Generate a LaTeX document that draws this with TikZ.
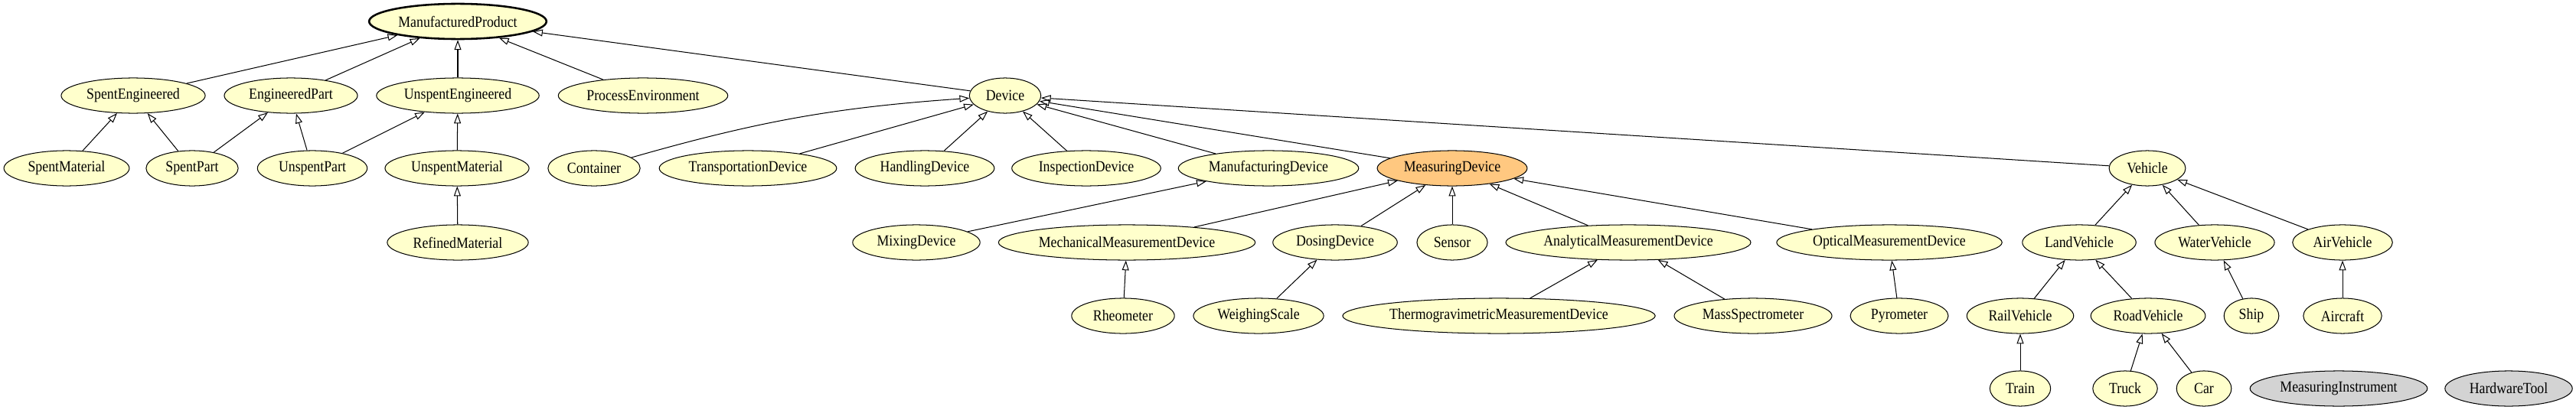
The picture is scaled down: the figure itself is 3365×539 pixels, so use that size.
\documentclass[tikz,border=0pt]{standalone}
\usepackage{fontspec}
\setmainfont{Liberation Serif}[FakeStretch=0.88]
\usetikzlibrary{shapes.geometric, arrows.meta}
\definecolor{classfill}{HTML}{FFFFCC}
\definecolor{focusfill}{HTML}{FFC880}
\definecolor{loosefill}{HTML}{D3D3D3}
\begin{document}
\begin{tikzpicture}[x=0.78125pt, y=-0.78125pt,
    cls/.style={ellipse, draw, fill=classfill, line width=0.8pt, inner sep=0pt,
                minimum height=36pt, font=\fontsize{15.8}{18}\selectfont},
    isa/.style={-{Triangle[open, length=10pt, width=7pt]}, line width=0.8pt}]
          \useasboundingbox (0,0) rectangle (3365,539);
          % top row
          \node[cls, line width=2pt, minimum width=181pt] (MP) at (598, 28) {ManufacturedProduct};
          % second row
          \node[cls, minimum width=147pt] (SE) at (174, 125) {SpentEngineered};
          \node[cls, minimum width=136pt] (EP) at (380, 125) {EngineeredPart};
          \node[cls, minimum width=166pt] (UE) at (598, 125) {UnspentEngineered};
          \node[cls, minimum width=173pt] (PE) at (840, 125) {ProcessEnvironment};
          \node[cls, minimum width=73pt] (DEV) at (1313, 125) {Device};
          % third row
          \node[cls, minimum width=128pt] (SM) at (87, 220) {SpentMaterial};
          \node[cls, minimum width=94pt] (SP) at (251, 220) {SpentPart};
          \node[cls, minimum width=112pt] (UP) at (408, 220) {UnspentPart};
          \node[cls, minimum width=147pt] (UM) at (597, 220) {UnspentMaterial};
          \node[cls, minimum width=94pt] (CON) at (776, 220) {Container};
          \node[cls, minimum width=181pt] (TD) at (977, 220) {TransportationDevice};
          \node[cls, minimum width=142pt] (HD) at (1208, 220) {HandlingDevice};
          \node[cls, minimum width=152pt] (ID) at (1419, 220) {InspectionDevice};
          \node[cls, minimum width=184pt] (MFD) at (1657, 220) {ManufacturingDevice};
          \node[cls, fill=focusfill, minimum width=153pt] (MD) at (1897, 220) {MeasuringDevice};
          \node[cls, minimum width=78pt] (VEH) at (2805, 220) {Vehicle};
          % fourth row
          \node[cls, minimum width=144pt] (RM) at (598, 317) {RefinedMaterial};
          \node[cls, minimum width=130pt] (MIX) at (1197, 317) {MixingDevice};
          \node[cls, minimum width=262pt] (MMD) at (1472, 317) {MechanicalMeasurementDevice};
          \node[cls, minimum width=127pt] (DOS) at (1744, 317) {DosingDevice};
          \node[cls, minimum width=72pt] (SEN) at (1897, 317) {Sensor};
          \node[cls, minimum width=250pt] (AMD) at (2127, 317) {AnalyticalMeasurementDevice};
          \node[cls, minimum width=230pt] (OMD) at (2468, 317) {OpticalMeasurementDevice};
          \node[cls, minimum width=116pt] (LV) at (2716, 317) {LandVehicle};
          \node[cls, minimum width=122pt] (WV) at (2893, 317) {WaterVehicle};
          \node[cls, minimum width=102pt] (AV) at (3060, 317) {AirVehicle};
          % fifth row
          \node[cls, minimum width=105pt] (RHE) at (1467, 413) {Rheometer};
          \node[cls, minimum width=133pt] (WS) at (1644, 413) {WeighingScale};
          \node[cls, minimum width=319pt] (TGA) at (1958, 413) {ThermogravimetricMeasurementDevice};
          \node[cls, minimum width=161pt] (MS) at (2290, 413) {MassSpectrometer};
          \node[cls, minimum width=100pt] (PYR) at (2481, 413) {Pyrometer};
          \node[cls, minimum width=109pt] (RAV) at (2639, 413) {RailVehicle};
          \node[cls, minimum width=117pt] (ROV) at (2806, 413) {RoadVehicle};
          \node[cls, minimum width=56pt] (SHIP) at (2941, 413) {Ship};
          \node[cls, minimum width=80pt] (AIR) at (3060, 413) {Aircraft};
          % bottom row
          \node[cls, minimum width=62pt] (TRN) at (2639, 508) {Train};
          \node[cls, minimum width=66pt] (TRK) at (2776, 508) {Truck};
          \node[cls, minimum width=56pt] (CAR) at (2879, 508) {Car};
          \node[cls, fill=loosefill, minimum width=181pt] (MI) at (3055, 508) {MeasuringInstrument};
          \node[cls, fill=loosefill, minimum width=130pt] (HT) at (3277, 508) {HardwareTool};
          % subclass links
          \draw[isa] (SE) -- (MP);
          \draw[isa] (EP) -- (MP);
          \draw[isa] (UE) -- (MP);
          \draw[isa] (PE) -- (MP);
          \draw[isa] (DEV) -- (MP);
          \draw[isa] (SM) -- (SE);
          \draw[isa] (SP) -- (SE);
          \draw[isa] (SP) -- (EP);
          \draw[isa] (UP) -- (EP);
          \draw[isa] (UP) -- (UE);
          \draw[isa] (UM) -- (UE);
          \draw[isa] (RM) -- (UM);
          \draw[isa] (CON) to[bend left=6] (DEV);
          \draw[isa] (TD) -- (DEV);
          \draw[isa] (HD) -- (DEV);
          \draw[isa] (ID) -- (DEV);
          \draw[isa] (MFD) -- (DEV);
          \draw[isa] (MD) -- (DEV);
          \draw[isa] (VEH) -- (DEV);
          \draw[isa] (MIX) -- (MFD);
          \draw[isa] (MMD) -- (MD);
          \draw[isa] (DOS) -- (MD);
          \draw[isa] (SEN) -- (MD);
          \draw[isa] (AMD) -- (MD);
          \draw[isa] (OMD) -- (MD);
          \draw[isa] (RHE) -- (MMD);
          \draw[isa] (WS) -- (DOS);
          \draw[isa] (TGA) -- (AMD);
          \draw[isa] (MS) -- (AMD);
          \draw[isa] (PYR) -- (OMD);
          \draw[isa] (LV) -- (VEH);
          \draw[isa] (WV) -- (VEH);
          \draw[isa] (AV) -- (VEH);
          \draw[isa] (RAV) -- (LV);
          \draw[isa] (ROV) -- (LV);
          \draw[isa] (TRN) -- (RAV);
          \draw[isa] (TRK) -- (ROV);
          \draw[isa] (CAR) -- (ROV);
          \draw[isa] (SHIP) -- (WV);
          \draw[isa] (AIR) -- (AV);
        \end{tikzpicture}
\end{document}
